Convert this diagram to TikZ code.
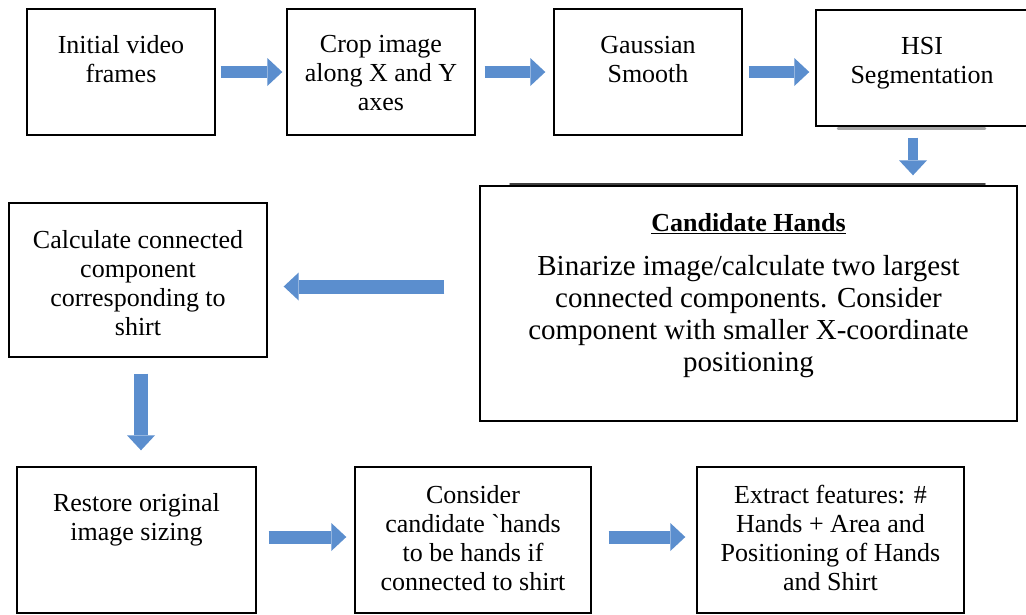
\documentclass[tikz,border=0pt]{standalone}
\usepackage{fontspec}
\setmainfont{Liberation Serif}
\usetikzlibrary{positioning}
\usetikzlibrary{arrows.meta}
\usetikzlibrary{calc}

\definecolor{arrowblue}{RGB}{91,142,206}
\newcommand\boxfont{\fontsize{26}{29}\selectfont}
\newcommand\bigfont{\fontsize{29}{32}\selectfont}

\tikzset{
  box/.style={draw, line width=1.4pt, inner sep=0pt},
  txt/.style={align=center, inner sep=0pt, font=\boxfont},
  blockarrow/.style={draw=arrowblue, line width=#1,
    -{Triangle[width=28pt,length=15pt,line width=0pt,fill=arrowblue]}},
  blockarrow/.default=12pt
}

\begin{document}
\begin{tikzpicture}[x=1pt,y=-1pt]
    \useasboundingbox (0,0) rectangle (1026,614);
    \fill[white] (0,0) rectangle (1026,614);
    \clip (0,0) rectangle (1026,614);

    % top row
    \node (init) [box, minimum width=188, minimum height=126] at (121,72) {};
    \node (crop) [box, minimum width=188, minimum height=126] at (381,72) {};
    \node (gauss) [box, minimum width=188, minimum height=126] at (648,72) {};
    \draw[black!35, line width=2.5pt, line cap=round] (838,128.5) -- (985,128.5);
    \node (hsi) [box, fill=white, minimum width=212, minimum height=116] at (922,68) {};

    \node (inittxt) [txt, below=27pt of init.north] {Initial video\\frames};
    \node (croptxt) [txt, below=27pt of crop.north] {Crop image\\along X and Y\\axes};
    \node (gausstxt) [txt, below=28pt of gauss.north] {Gaussian\\Smooth};
    \node (hsitxt) [txt, below=28pt of hsi.north] {HSI\\Segmentation};

    % middle row
    \draw[black!75, line width=1.5pt, line cap=round] (510,184) -- (985,184);
    \node (cand) [box, fill=white, minimum width=537, minimum height=235] at (748.5,303.5) {};
    \node (candtitle) [txt, font=\boxfont\bfseries, below=28pt of cand.north] {\underline{Candidate Hands}};
    \node (candtxt) [txt, font=\bigfont, below=21pt of candtitle]
        {Binarize image/calculate two largest\\connected components. Consider\\component with smaller X-coordinate\\positioning};

    \node (calc) [box, minimum width=258, minimum height=154] at (138,280) {};
    \node (calctxt) [txt, below=28pt of calc.north]
        {Calculate connected\\component\\corresponding to\\shirt};

    % bottom row
    \node (restore) [box, minimum width=239, minimum height=146] at (136.5,540) {};
    \node (consider) [box, minimum width=236, minimum height=146] at (473,540) {};
    \node (extract) [box, minimum width=267, minimum height=146] at (830.5,540) {};

    \node (restoretxt) [txt, below=27pt of restore.north] {Restore original\\image sizing};
    \node (considertxt) [txt, below=19pt of consider.north]
        {Consider\\candidate \textasciigrave hands\\to be hands if\\connected to shirt};
    \node (extracttxt) [txt, below=19pt of extract.north]
        {Extract features: \#\\Hands + Area and\\Positioning of Hands\\and Shirt};

    % block arrows
    \draw[blockarrow, shorten <=5pt, shorten >=4pt] (init) -- (crop);
    \draw[blockarrow, shorten <=9pt, shorten >=8pt] (crop) -- (gauss);
    \draw[blockarrow, shorten <=6pt, shorten >=6pt] (gauss.east) -- (gauss.east -| hsi.west);
    \draw[blockarrow=10pt, shorten <=11pt, shorten >=10pt]
        ([xshift=-9pt]hsi.south) -- ([xshift=-9pt]hsi.south |- cand.north);
    \draw[blockarrow=14pt, shorten <=35pt, shorten >=16pt]
        ([yshift=17pt]cand.west) -- ([yshift=17pt]cand.west -| calc.east);
    \draw[blockarrow=14pt, shorten <=16pt, shorten >=16pt]
        ([xshift=3pt]calc.south) -- ([xshift=3pt]calc.south |- restore.north);
    \draw[blockarrow=13pt, shorten <=12pt, shorten >=8pt]
        ([yshift=3pt]restore.east) -- ([yshift=3pt]restore.east -| consider.west);
    \draw[blockarrow=13pt, shorten <=17pt, shorten >=11pt]
        ([yshift=3pt]consider.east) -- ([yshift=3pt]consider.east -| extract.west);
\end{tikzpicture}
\end{document}
